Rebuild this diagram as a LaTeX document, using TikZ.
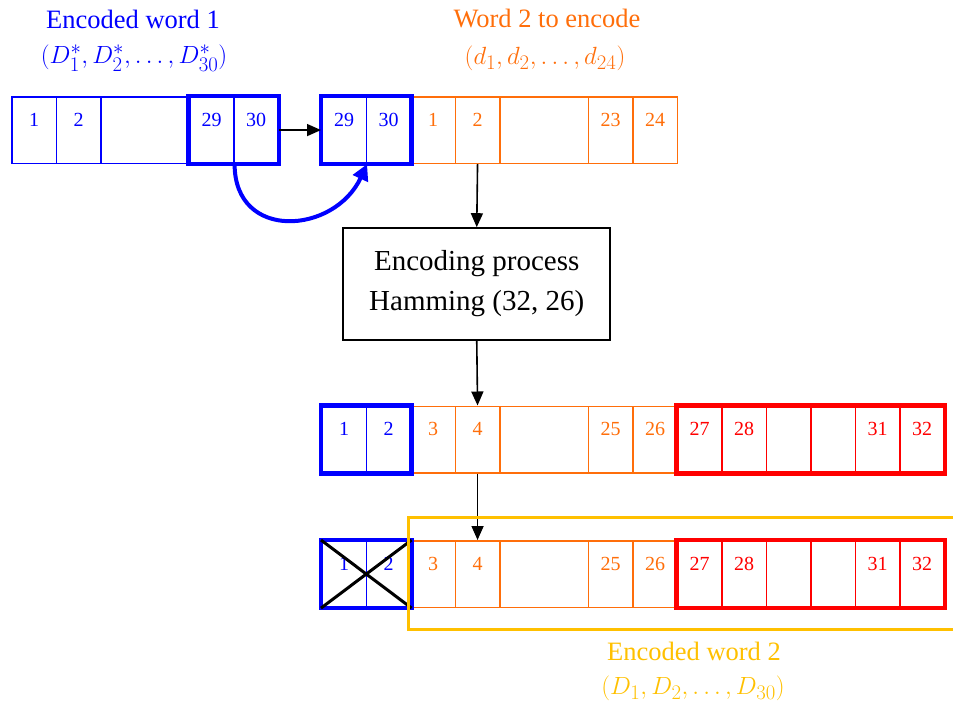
\documentclass[tikz,border=0pt]{standalone}
\usepackage{amsmath}
\usepackage{fontspec}
\setmainfont{Liberation Serif}
\usepackage{tikz}
\usetikzlibrary{calc}
\usetikzlibrary{arrows.meta}

\definecolor{wordblue}{RGB}{0,0,255}
\definecolor{wordorange}{RGB}{255,110,10}
\definecolor{parityred}{RGB}{255,0,0}
\definecolor{wordyellow}{RGB}{255,192,0}

\begin{document}
\begin{tikzpicture}[x=1pt,y=-1pt]

		\tikzstyle{cell}     = [rectangle, draw, anchor=north west, minimum width=44.5pt, minimum height=66.5pt, inner sep=0pt, line width=1.6pt, text height=14pt, text depth=22pt, font=\fontsize{20}{24}\selectfont]
		\tikzstyle{gapcell}  = [cell, minimum width=88.5pt]
		\tikzstyle{thickbox} = [line width=4.5pt]
		\tikzstyle{link}     = [-{Triangle[length=14pt,width=12pt]}, line width=1.6pt]
		\tikzstyle{title}    = [inner sep=1pt, font=\fontsize{26.5}{30}\selectfont]
		\tikzstyle{settext}  = [inner sep=1pt, font=\fontsize{28}{32}\selectfont]

		\useasboundingbox (0,0) rectangle (953,707);

		% titles
		\node [title, wordblue](w1title) at (133,19) {Encoded word 1};
		\node [settext, wordblue](w1set) at (134,58) {$(D_1^*, D_2^*, \ldots, D_{30}^*)$};
		\node [title, wordorange](w2title) at (547,19) {Word 2 to encode};
		\node [settext, wordorange](w2set) at (545,58) {$(d_1, d_2, \ldots, d_{24})$};
		\node [title, wordyellow](e2title) at (694,651) {Encoded word 2};
		\node [settext, wordyellow](e2set) at (693,688) {$(D_1, D_2, \ldots, D_{30})$};

		% encoded word 1
		\node [cell, wordblue](w1-c1) at (11,96) {1};
		\node [cell, wordblue](w1-c2) at (55.5,96) {2};
		\node [gapcell, wordblue](w1-gap) at (100,96) {};
		\node [cell, wordblue](w1-c29) at (188.5,96) {29};
		\node [cell, wordblue](w1-c30) at (233,96) {30};
		\draw [thickbox, wordblue] (w1-c29.north west) rectangle (w1-c30.south east);

		% word 2 to encode
		\node [cell, wordblue](w2-c29) at (321,96) {29};
		\node [cell, wordblue](w2-c30) at (365.5,96) {30};
		\node [cell, wordorange](w2-c1) at (410,96) {1};
		\node [cell, wordorange](w2-c2) at (454.5,96) {2};
		\node [gapcell, wordorange](w2-gap) at (499,96) {};
		\node [cell, wordorange](w2-c23) at (587.5,96) {23};
		\node [cell, wordorange](w2-c24) at (632,96) {24};
		\draw [thickbox, wordblue] (w2-c29.north west) rectangle (w2-c30.south east);

		\draw [link] (w1-c30.east) -- (w2-c29.west);
		\draw [wordblue, line width=4pt, -{Triangle[length=16pt,width=16pt]}] (w1-c29.south east) to[out=-90, in=-115, looseness=1.5] (w2-c29.south east);

		% encoder
		\node [draw, line width=1.6pt, minimum width=267pt, minimum height=112pt, align=center, font=\fontsize{29}{40}\selectfont](proc) at (476.75,284) {Encoding process\\Hamming (32, 26)};
		\draw [link] (w2-c2.south) -- (proc.north);

		% encoded rows
		\foreach \r/\top in {r3/405.5, r4/540} {
			\node [cell, wordblue](\r-c1) at (321,\top) {1};
			\node [cell, wordblue](\r-c2) at (365.5,\top) {2};
			\node [cell, wordorange](\r-c3) at (410,\top) {3};
			\node [cell, wordorange](\r-c4) at (454.5,\top) {4};
			\node [gapcell, wordorange](\r-gap) at (499,\top) {};
			\node [cell, wordorange](\r-c25) at (587.5,\top) {25};
			\node [cell, wordorange](\r-c26) at (632,\top) {26};
			\node [cell, parityred](\r-c27) at (676.5,\top) {27};
			\node [cell, parityred](\r-c28) at (721,\top) {28};
			\node [cell, parityred](\r-c29) at (765.5,\top) {};
			\node [cell, parityred](\r-c30) at (810,\top) {};
			\node [cell, parityred](\r-c31) at (854.5,\top) {31};
			\node [cell, parityred](\r-c32) at (899,\top) {32};
			\draw [thickbox, wordblue] (\r-c1.north west) rectangle (\r-c2.south east);
			\draw [thickbox, parityred] (\r-c27.north west) rectangle (\r-c32.south east);
		}
		\draw [link] (proc.south) -- (r3-c4.north);
		\draw [link] (r3-c4.south) -- (r4-c4.north);

		% dropped bits and second code word
		\draw [line width=3pt] (r4-c1.north west) -- (r4-c2.south east);
		\draw [line width=3pt] (r4-c1.south west) -- (r4-c2.north east);
		\draw [wordyellow, line width=3pt] ($(r4-c3.north west)+(-2,-23)$) rectangle ($(r4-c32.south east)+(20,21)$);

	\end{tikzpicture}
\end{document}
